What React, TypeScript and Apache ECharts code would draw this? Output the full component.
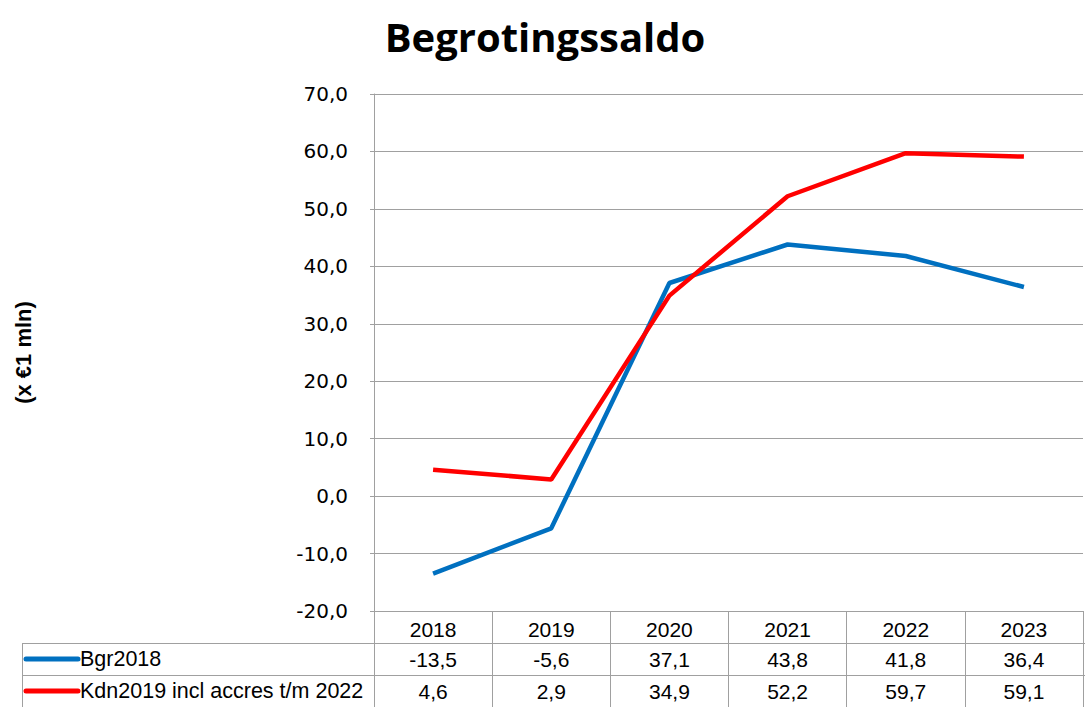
import React, { useEffect, useRef } from "react";
import * as echarts from "echarts";

const years = ["2018", "2019", "2020", "2021", "2022", "2023"];
const bgr2018 = [-13.5, -5.6, 37.1, 43.8, 41.8, 36.4];
const kdn2019 = [4.6, 2.9, 34.9, 52.2, 59.7, 59.1];
const seriesNames = ["Bgr2018", "Kdn2019 incl accres t/m 2022"];
const seriesData = [bgr2018, kdn2019];
const seriesColors = ["#0070C0", "#FF0000"];
const yMin = -20;
const yMax = 70;
const yStep = 10;
const titleText = "Begrotingssaldo";
const yAxisTitle = "(x €1 mln)";

const fmt = (v: number) => v.toFixed(1).replace(".", ",");

export default function App() {
  const ref = useRef<HTMLDivElement>(null);
  useEffect(() => {
    if (!ref.current) return;
    const chart = echarts.init(ref.current, null, { renderer: "svg" });
    const gridLeft = 374;
    const gridTop = 94;
    const gridRightPx = 1083;
    const gridBottomPx = 611;
    const tableFont = "'Liberation Sans', Arial, sans-serif";
    const gray = "#A0A0A0";
    chart.setOption({
      animation: false,
      backgroundColor: "#ffffff",
      title: {
        text: titleText,
        left: 540,
        textAlign: "center",
        top: 11,
        textStyle: {
          fontFamily: "'Open Sans', sans-serif",
          fontWeight: "bold",
          fontSize: 40,
          color: "#000",
        },
      },
      grid: {
        left: gridLeft,
        top: gridTop,
        right: 1085 - gridRightPx,
        bottom: 707 - gridBottomPx,
        containLabel: false,
      },
      xAxis: {
        type: "category",
        data: years,
        boundaryGap: true,
        axisLine: { show: true, onZero: false, lineStyle: { color: gray, width: 1 } },
        axisTick: { show: true, length: 96, lineStyle: { color: gray, width: 1 } },
        axisLabel: {
          margin: 8,
          fontFamily: tableFont,
          fontSize: 21,
          color: "#000",
        },
        splitLine: { show: false },
      },
      yAxis: {
        type: "value",
        min: yMin,
        max: yMax,
        interval: yStep,
        name: yAxisTitle,
        nameLocation: "middle",
        nameRotate: 90,
        nameGap: 340,
        nameTextStyle: {
          fontFamily: tableFont,
          fontWeight: "bold",
          fontSize: 22,
          color: "#000",
        },
        axisLine: { show: true, lineStyle: { color: gray, width: 1 } },
        axisTick: { show: true, length: 4, lineStyle: { color: gray } },
        axisLabel: {
          formatter: (v: number) => fmt(v),
          margin: 26,
          fontFamily: "'DejaVu Sans', Verdana, sans-serif",
          fontSize: 20,
          color: "#000",
        },
        splitLine: { show: true, lineStyle: { color: gray, width: 1 } },
      },
      series: seriesData.map((d, i) => ({
        type: "line",
        name: seriesNames[i],
        data: d,
        symbol: "none",
        lineStyle: { color: seriesColors[i], width: 4.5 },
        itemStyle: { color: seriesColors[i] },
        z: 3 + i,
      })),
    });

    const rowTops = [643, 675];
    const rowH = 32;
    const elements: any[] = [];
    rowTops.forEach((y) => {
      elements.push({
        type: "line",
        shape: { x1: 22, y1: y + 0.5, x2: 1085, y2: y + 0.5 },
        style: { stroke: gray, lineWidth: 1 },
      });
    });
    elements.push({
      type: "line",
      shape: { x1: 22.5, y1: rowTops[0], x2: 22.5, y2: 707 },
      style: { stroke: gray, lineWidth: 1 },
    });
    seriesData.forEach((d, si) => {
      const cy = rowTops[si] + rowH / 2;
      elements.push({
        type: "line",
        shape: { x1: 26, y1: cy, x2: 78, y2: cy },
        style: { stroke: seriesColors[si], lineWidth: 5, lineCap: "round" },
      });
      elements.push({
        type: "text",
        x: 80,
        y: cy,
        style: {
          text: seriesNames[si],
          font: `21.5px ${tableFont}`,
          fill: "#000",
          textAlign: "left",
          textVerticalAlign: "middle",
        },
      });
      d.forEach((v, i) => {
        const px = chart.convertToPixel({ xAxisIndex: 0 }, i) as number;
        elements.push({
          type: "text",
          x: px,
          y: cy,
          style: {
            text: fmt(v),
            font: `21px ${tableFont}`,
            fill: "#000",
            textAlign: "center",
            textVerticalAlign: "middle",
          },
        });
      });
    });
    chart.setOption({ graphic: { elements } });

    return () => chart.dispose();
  }, []);
  return (
    <div
      ref={ref}
      style={{ position: "absolute", left: 0, top: 0, width: 1085, height: 707 }}
    />
  );
}
